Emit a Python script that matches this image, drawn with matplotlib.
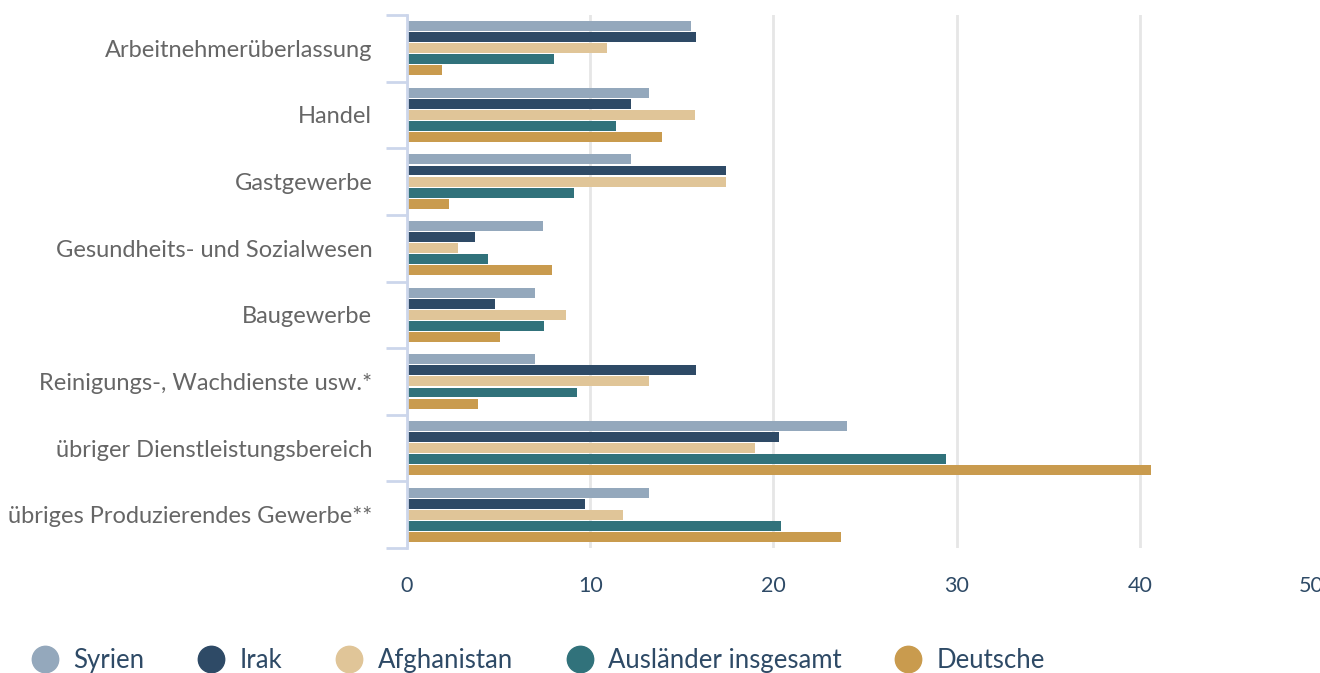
import matplotlib.pyplot as plt
import matplotlib.transforms as mtransforms
import numpy as np
from matplotlib.lines import Line2D

plt.rcParams['font.family'] = ['Lato', 'DejaVu Sans']

categories = ["Arbeitnehmerüberlassung", "Handel", "Gastgewerbe",
              "Gesundheits- und Sozialwesen", "Baugewerbe",
              "Reinigungs-, Wachdienste usw.*", "übriger Dienstleistungsbereich",
              "übriges Produzierendes Gewerbe**"]
series = ["Syrien", "Irak", "Afghanistan", "Ausländer insgesamt", "Deutsche"]
colors = ["#94a8bc", "#2e4a66", "#e0c598", "#31727b", "#c99b4e"]

syrien      = [15.5, 13.2, 12.2, 7.4, 7.0, 7.0, 24.0, 13.2]
irak        = [15.8, 12.2, 17.4, 3.7, 4.8, 15.8, 20.3, 9.7]
afghanistan = [10.9, 15.7, 17.4, 2.8, 8.7, 13.2, 19.0, 11.8]
auslaender  = [8.0, 11.4, 9.1, 4.4, 7.5, 9.3, 29.4, 20.4]
deutsche    = [1.9, 13.9, 2.3, 7.9, 5.1, 3.9, 40.6, 23.7]
values = [syrien, irak, afghanistan, auslaender, deutsche]

xticks = [0, 10, 20, 30, 40, 50]

fig = plt.figure(figsize=(13.2, 6.73), dpi=100)
ax = fig.add_axes([407/1320, 125/673, 916/1320, 533/673])

y = np.arange(len(categories))
pitch, h = 0.166, 0.15
for i, (vals, c) in enumerate(zip(values, colors)):
    ax.barh(y + (i - 2) * pitch, vals, height=h, color=c, zorder=3)

ax.set_ylim(len(categories) - 0.5, -0.5)
ax.set_xlim(0, 50)
ax.set_xticks(xticks)
ax.set_xticklabels([str(t) for t in xticks])
ax.set_yticks(y)
ax.set_yticklabels(categories)
ax.set_yticks(np.arange(-0.5, len(categories)), minor=True)

ax.grid(axis='x', color='#e6e6e6', lw=2, zorder=0)
for s in ['top', 'right', 'bottom']:
    ax.spines[s].set_visible(False)
ax.spines['left'].set_color('#ccd6eb')
ax.spines['left'].set_linewidth(2)
ax.spines['left'].set_zorder(4)

ax.tick_params(axis='y', which='major', length=0, pad=25, labelsize=17, labelcolor='#666666')
ax.tick_params(axis='y', which='minor', length=15, width=2, color='#ccd6eb')
ax.tick_params(axis='x', length=0, pad=20, labelsize=15.5, labelcolor='#2e4a66')

# last label is pushed a bit inwards, like in the original
last = ax.get_xticklabels()[-1]
last.set_transform(last.get_transform() + mtransforms.ScaledTranslation(-0.12, 0, fig.dpi_scale_trans))

handles = [Line2D([], [], marker='o', ls='', ms=19, color=c) for c in colors]
fig.legend(handles, series, loc='center left', bbox_to_anchor=(0.007, 0.018),
           ncol=5, frameon=False, fontsize=18.5, labelcolor='#2e4a66',
           handletextpad=0.1, columnspacing=1.6, borderaxespad=0)

fig.savefig('out.png', dpi=100)
